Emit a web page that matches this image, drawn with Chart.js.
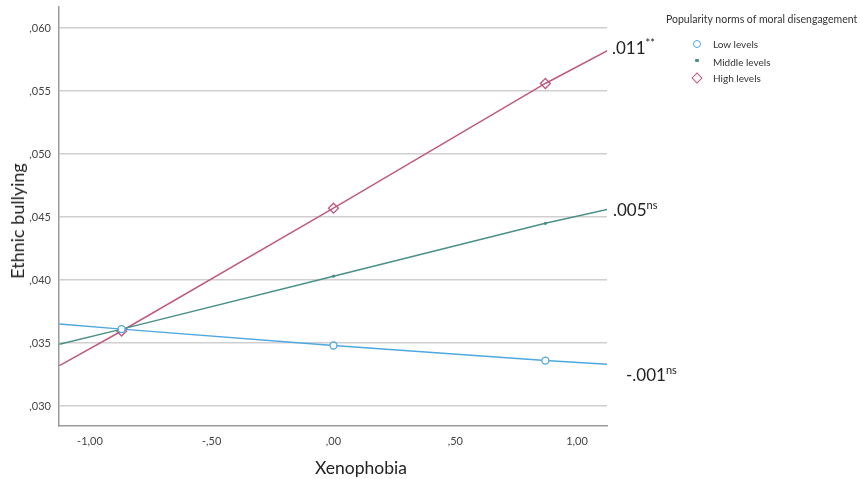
<!DOCTYPE html>
<html>
<head>
<meta charset="utf-8">
<script src="https://cdn.jsdelivr.net/npm/chart.js@4"></script>
<style>
  body{margin:0;background:#fff;font-family:Lato,"Open Sans",sans-serif;color:#222;}
  #wrap{position:relative;width:863px;height:479px;}
  #chart{position:absolute;left:0;top:0;}
  .lbl{position:absolute;white-space:nowrap;}
  .ytitle{left:17px;top:221px;font-size:18px;font-weight:400;transform:translate(-50%,-50%) rotate(-90deg);}
  .xtitle{left:361px;top:467px;font-size:17.5px;transform:translate(-50%,-50%);}
  .note{font-size:17px;line-height:1;}
  .note sup{font-size:11px;vertical-align:7px;}
  .legtitle{left:666px;top:13px;font-size:10.5px;color:#333;}
  .legitem{left:713px;font-size:10px;color:#333;line-height:1;}
  .mk{position:absolute;box-sizing:border-box;}
</style>
</head>
<body>
<div id="wrap">
  <canvas id="chart" width="863" height="479"></canvas>
  <div class="lbl ytitle">Ethnic bullying</div>
  <div class="lbl xtitle">Xenophobia</div>
  <div class="lbl note" style="left:612px;top:37px;">.011<sup>**</sup></div>
  <div class="lbl note" style="left:613px;top:199px;">.005<sup>ns</sup></div>
  <div class="lbl note" style="left:626px;top:364px;">-.001<sup>ns</sup></div>
  <div class="lbl legtitle">Popularity norms of moral disengagement</div>
  <div class="mk" style="left:693px;top:40px;width:8px;height:8px;border:1.3px solid #4ea8e0;border-radius:50%;"></div>
  <div class="lbl legitem" style="top:39px;">Low levels</div>
  <div class="mk" style="left:695px;top:59px;width:4px;height:3px;background:#4a8f88;border-radius:1px;"></div>
  <div class="lbl legitem" style="top:57px;">Middle levels</div>
  <div class="mk" style="left:693px;top:74px;width:8px;height:8px;border:1.3px solid #bf5a80;transform:rotate(45deg);"></div>
  <div class="lbl legitem" style="top:73px;">High levels</div>
</div>
<script>
// values
const xLevels = [-1.125, -0.87, 0, 0.87, 1.125];
const lowValues = [0.0365, 0.0361, 0.0348, 0.0336, 0.0333];
const middleValues = [0.0349, 0.0361, 0.0403, 0.0445, 0.0456];
const highValues = [0.0332, 0.03595, 0.0457, 0.0556, 0.0582];

const yTicks = [0.030, 0.035, 0.040, 0.045, 0.050, 0.055, 0.060];
const yTickLabels = [",030", ",035", ",040", ",045", ",050", ",055", ",060"];
const xTicks = [-1, -0.5, 0, 0.5, 1];
const xTickLabels = ["-1,00", "-,50", ",00", ",50", "1,00"];

const pts = arr => arr.map((v, i) => ({x: xLevels[i], y: v}));
const mark = r => xLevels.map((_, i) => (i === 0 || i === xLevels.length - 1) ? 0 : r);

new Chart(document.getElementById("chart"), {
  type: "line",
  data: {
    datasets: [
      {label: "Low levels", data: pts(lowValues), borderColor: "#4ea8e0", backgroundColor: "#fff",
       borderWidth: 1.5, pointStyle: "circle", pointRadius: mark(3.5), pointBorderWidth: 1.3},
      {label: "Middle levels", data: pts(middleValues), borderColor: "#4a8f88", backgroundColor: "#4a8f88",
       borderWidth: 1.5, pointStyle: "circle", pointRadius: mark(1.6), pointBorderWidth: 0},
      {label: "High levels", data: pts(highValues), borderColor: "#bf5a80", backgroundColor: "rgba(255,255,255,0)",
       borderWidth: 1.5, pointStyle: "rectRot", pointRadius: mark(5), pointBorderWidth: 1.3}
    ]
  },
  options: {
    responsive: false,
    animation: false,
    layout: {padding: {left: 0, top: 7, right: 256, bottom: 0}},
    plugins: {legend: {display: false}, tooltip: {enabled: false}},
    scales: {
      x: {
        type: "linear", min: -1.127, max: 1.123,
        afterBuildTicks: s => { s.ticks = xTicks.map(v => ({value: v})); },
        afterFit: s => { s.height = 53; s.paddingLeft = 0; s.paddingRight = 0; },
        grid: {color: "rgba(0,0,0,0)", drawTicks: false},
        border: {display: true, color: "#9a9a9a", width: 1.5},
        ticks: {padding: 9, color: "#444", font: {family: "Lato", size: 11},
                callback: (v, i) => xTickLabels[i]}
      },
      y: {
        type: "linear", min: 0.02841, max: 0.06167,
        afterBuildTicks: s => { s.ticks = yTicks.map(v => ({value: v})); },
        afterFit: s => { s.width = 59; s.paddingTop = 0; s.paddingBottom = 0; },
        grid: {color: "#cfcfcf", lineWidth: 1.5, drawTicks: false},
        border: {display: true, color: "#9a9a9a", width: 1.5},
        ticks: {padding: 8, color: "#444", font: {family: "Lato", size: 11},
                callback: (v, i) => yTickLabels[i]}
      }
    }
  }
});
</script>
</body>
</html>
